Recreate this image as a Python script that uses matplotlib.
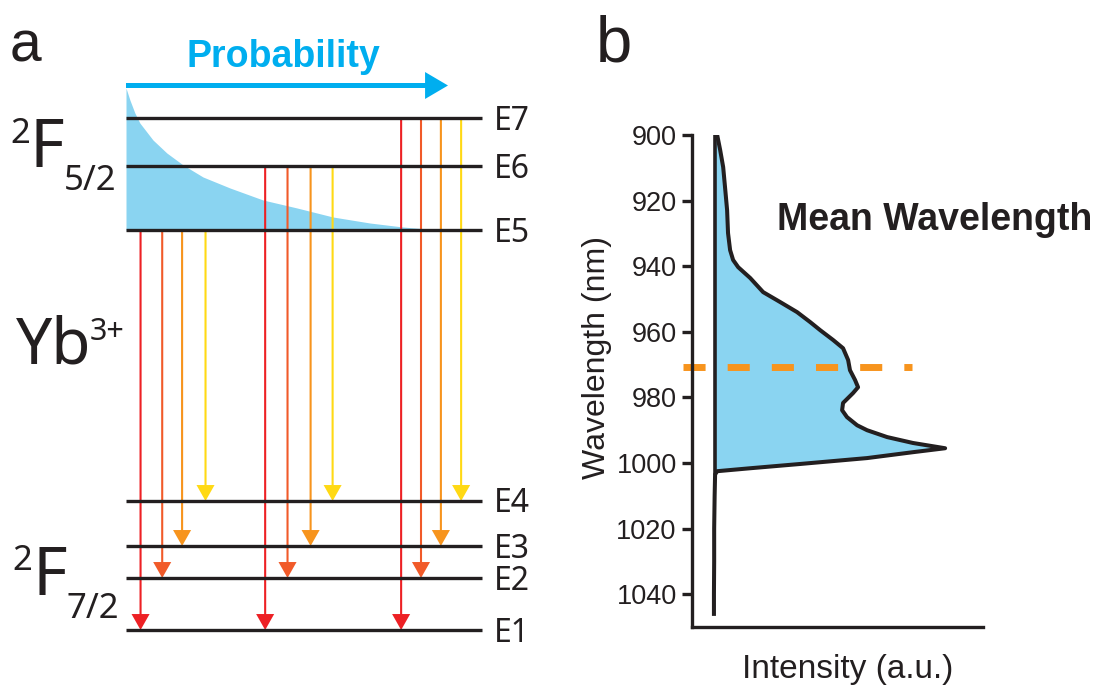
import matplotlib
matplotlib.use('Agg')
import matplotlib.pyplot as plt

plt.rcParams['font.family'] = ['Liberation Sans', 'DejaVu Sans']
plt.rcParams['lines.scale_dashes'] = False

# ---- panel a: Yb3+ Stark levels (arbitrary energy units) ----
levels = ['E1', 'E2', 'E3', 'E4', 'E5', 'E6', 'E7']
level_energy = [0.0, 5.2, 8.4, 12.9, 40.0, 46.4, 51.2]

# emission arrows: one group per upper level, one arrow per lower level
arrow_start = ['E5', 'E6', 'E7']
arrow_end = ['E1', 'E2', 'E3', 'E4']
arrow_x = [[0.041, 0.102, 0.158, 0.224],
           [0.392, 0.455, 0.520, 0.582],
           [0.775, 0.831, 0.887, 0.944]]
arrow_colors = ['#ed2024', '#f15a29', '#f7941d', '#ffd914']

# thermal population curve above E5
prob_x = [0.0, 0.011, 0.025, 0.039, 0.076, 0.115, 0.161, 0.217, 0.293,
          0.386, 0.482, 0.583, 0.687, 0.780, 0.848, 0.870]
prob_e = [54.2, 53.0, 51.7, 50.7, 49.0, 47.7, 46.5, 45.3, 44.2,
          43.0, 42.2, 41.3, 40.7, 40.3, 40.1, 40.0]

# ---- panel b: emission spectrum ----
wavelength = [900, 904.6, 909.8, 915.9, 922.9, 929.9, 935.1, 938.1, 940.3, 943.6,
              947.9, 950.9, 954.0, 957.0, 959.5, 962.5, 965.0, 968.6, 971.7, 974.7,
              976.9, 978.7, 981.7, 983.9, 986.0, 988.5, 990.0, 992.1, 993.9, 995.5,
              996.7, 998.5, 1000.3, 1001.6, 1002.5, 1003.5, 1010, 1020, 1030, 1040, 1046]
intensity = [0.009, 0.022, 0.035, 0.043, 0.052, 0.056, 0.065, 0.078, 0.100, 0.152,
             0.208, 0.281, 0.355, 0.411, 0.455, 0.511, 0.554, 0.576, 0.584, 0.606,
             0.619, 0.597, 0.554, 0.550, 0.571, 0.615, 0.658, 0.745, 0.857, 0.996,
             0.857, 0.658, 0.368, 0.152, 0.009, 0.0, -0.002, -0.004, -0.004, -0.005, -0.005]
mean_wavelength = 970.8
wl_ticks = [900, 920, 940, 960, 980, 1000, 1020, 1040]

blue_fill = '#8ad4f1'
text_col = '#231f20'
humanist = ['Noto Sans', 'Liberation Sans', 'DejaVu Sans']

fig = plt.figure(figsize=(11.07, 6.92), dpi=100)

# panel a spans the whole figure, data units chosen so levels run 0..1 in x
ax = fig.add_axes([0, 0, 1, 1])
ax.set_xlim(-126 / 355, (1107 - 126) / 355)
ax.set_ylim(-6.2, 63.0)
ax.axis('off')

E = dict(zip(levels, level_energy))

ax.fill_between(prob_x, E['E5'], prob_e, color=blue_fill, lw=0, zorder=1)

for name, en in zip(levels, level_energy):
    ax.plot([0, 1.003], [en, en], color=text_col, lw=2.4, solid_capstyle='butt', zorder=3)
    ax.text(1.036, en - 1.15, name, fontsize=23, family=humanist, color=text_col,
            ha='left', va='baseline')

for i, start in enumerate(arrow_start):
    for j, end in enumerate(arrow_end):
        x = arrow_x[i][j]
        ax.annotate('', xy=(x, E[end]), xytext=(x, E[start]),
                    arrowprops=dict(arrowstyle='simple,head_length=1.15,head_width=1.3,tail_width=0.15',
                                    mutation_scale=10, fc=arrow_colors[j], ec='none', lw=0,
                                    shrinkA=0, shrinkB=0), zorder=2)

# probability arrow
ax.annotate('', xy=(0.907, 54.45), xytext=(0.0, 54.45),
            arrowprops=dict(arrowstyle='simple,head_length=1.65,head_width=1.94,tail_width=0.36',
                            mutation_scale=10, fc='#00aeef', ec='none', lw=0,
                            shrinkA=0, shrinkB=0), zorder=2)
ax.text(0.442, 56.3, 'Probability', fontsize=27, fontweight='bold', color='#00aeef',
        ha='center', va='baseline')

# panel letters and term symbols
ax.text(-0.327, 56.8, 'a', fontsize=41, color=text_col, ha='left', va='baseline')
ax.text(1.324, 56.8, 'b', fontsize=47, color=text_col, ha='left', va='baseline')

ax.text(-0.327, 48.7, '2', fontsize=25, family=humanist, color=text_col, va='baseline')
ax.text(-0.271, 46.3, 'F', fontsize=48, family=humanist, color=text_col, va='baseline')
ax.text(-0.175, 44.0, '5/2', fontsize=25, family=humanist, color=text_col, va='baseline')

ax.text(-0.310, 26.7, 'Yb', fontsize=46, family=humanist, color=text_col, va='baseline')
ax.text(-0.101, 29.0, '3+', fontsize=22, family=humanist, color=text_col, va='baseline')

ax.text(-0.319, 6.0, '2', fontsize=25, family=humanist, color=text_col, va='baseline')
ax.text(-0.263, 3.5, 'F', fontsize=48, family=humanist, color=text_col, va='baseline')
ax.text(-0.167, 1.2, '7/2', fontsize=25, family=humanist, color=text_col, va='baseline')

# ---- panel b ----
axb = fig.add_axes([692 / 1107, 65 / 692, 291 / 1107, 492 / 692])
axb.set_facecolor('none')
axb.set_ylim(1050, 900)
axb.set_xlim(-0.1, 1.16)

axb.fill_betweenx(wavelength, 0, intensity, color=blue_fill, lw=0)
axb.plot(intensity, wavelength, color=text_col, lw=2.9, solid_joinstyle='round')
axb.plot([0, 0], [900, 1003], color=text_col, lw=2.6)
axb.plot([-0.139, 0.853], [mean_wavelength, mean_wavelength], color='#f7941d', lw=5,
         dashes=(15.9, 15.9), dash_capstyle='butt', clip_on=False)

for side in ['top', 'right']:
    axb.spines[side].set_visible(False)
for side in ['left', 'bottom']:
    axb.spines[side].set_linewidth(2.4)
    axb.spines[side].set_color(text_col)

axb.set_xticks([])
axb.set_yticks(wl_ticks)
axb.tick_params(axis='y', length=7, width=2.4, pad=4, labelsize=19.5,
                colors=text_col)

axb.text(-0.326, 0.547, 'Wavelength (nm)', transform=axb.transAxes, rotation=90,
         fontsize=23, color=text_col, ha='center', va='center')
axb.text(0.536, -0.087, 'Intensity (a.u.)', transform=axb.transAxes,
         fontsize=24, color=text_col, ha='center', va='center')
axb.text(0.27, 929, 'Mean Wavelength', fontsize=27, fontweight='bold', color=text_col,
         ha='left', va='baseline', clip_on=False)

fig.savefig('out.png', dpi=100)
